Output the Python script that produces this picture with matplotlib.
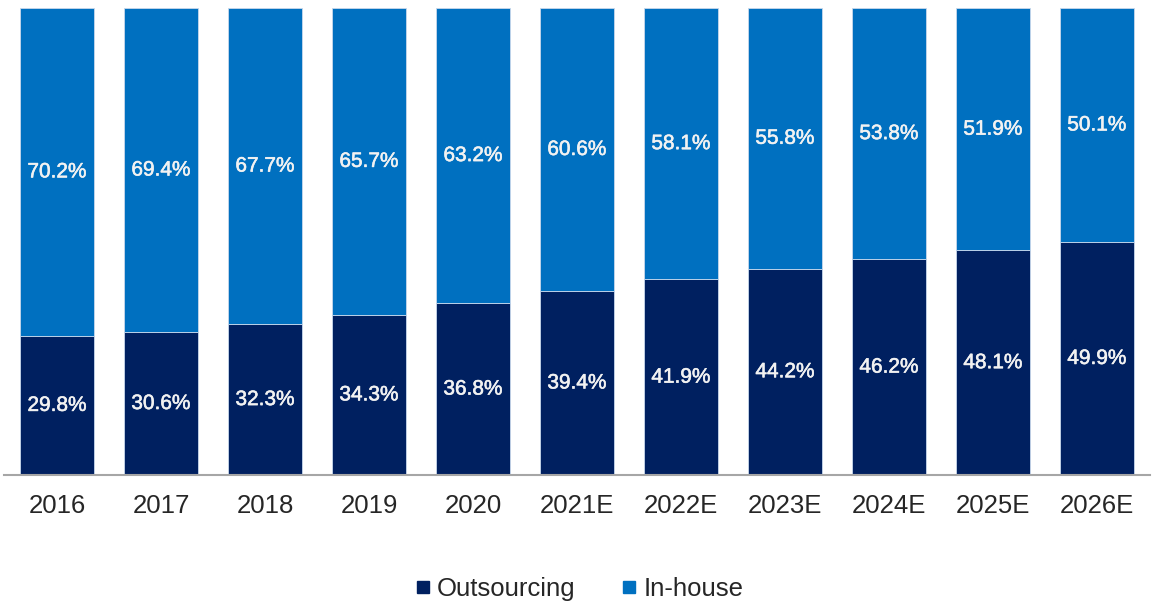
import matplotlib.pyplot as plt
import matplotlib.patheffects as pe
from matplotlib.lines import Line2D
import numpy as np

plt.rcParams['font.family'] = ['Liberation Sans', 'DejaVu Sans']

years = ['2016', '2017', '2018', '2019', '2020', '2021E', '2022E',
         '2023E', '2024E', '2025E', '2026E']
outsourcing = [29.8, 30.6, 32.3, 34.3, 36.8, 39.4, 41.9, 44.2, 46.2, 48.1, 49.9]
inhouse = [70.2, 69.4, 67.7, 65.7, 63.2, 60.6, 58.1, 55.8, 53.8, 51.9, 50.1]

navy = '#002060'
blue = '#0070C0'

fig = plt.figure(figsize=(11.53, 6.05), dpi=100)
ax = fig.add_axes([4 / 1153, 130 / 605, 1146 / 1153, 467 / 605])

x = np.arange(len(years))
w = 0.71
ax.bar(x, outsourcing, w, color=navy, edgecolor='#c8d8ec', linewidth=0.6)
ax.bar(x, inhouse, w, bottom=outsourcing, color=blue,
       edgecolor='#c8d8ec', linewidth=0.6)

# labels a touch heavier than regular weight
thick = [pe.withStroke(linewidth=0.4, foreground='#f2f2f2')]
for i in range(len(years)):
    ax.text(x[i], outsourcing[i] / 2, '%.1f%%' % outsourcing[i],
            ha='center', va='center', color='#f2f2f2', fontsize=15,
            path_effects=thick)
    ax.text(x[i], outsourcing[i] + inhouse[i] / 2, '%.1f%%' % inhouse[i],
            ha='center', va='center', color='#f2f2f2', fontsize=15,
            path_effects=thick)

ax.set_xlim(-0.51, len(years) - 0.49)
ax.set_ylim(0, 100)
ax.set_xticks(x)
ax.set_xticklabels(years, fontsize=18.5, color='#262626')
ax.tick_params(axis='x', length=0, pad=14)
ax.set_yticks([])
for s in ['top', 'right', 'left']:
    ax.spines[s].set_visible(False)
ax.spines['bottom'].set_color('#a6a6a6')
ax.spines['bottom'].set_linewidth(1.5)

handles = [Line2D([], [], marker='s', linestyle='', color=navy, markersize=9),
           Line2D([], [], marker='s', linestyle='', color=blue, markersize=9)]
fig.legend(handles, ['Outsourcing', 'In-house'], loc='center',
           bbox_to_anchor=(0.5, 0.026), ncol=2, frameon=False,
           fontsize=18.5, handletextpad=0.05, columnspacing=1.6,
           handlelength=1.0, labelcolor='#262626')

fig.savefig('out.png', dpi=100)
